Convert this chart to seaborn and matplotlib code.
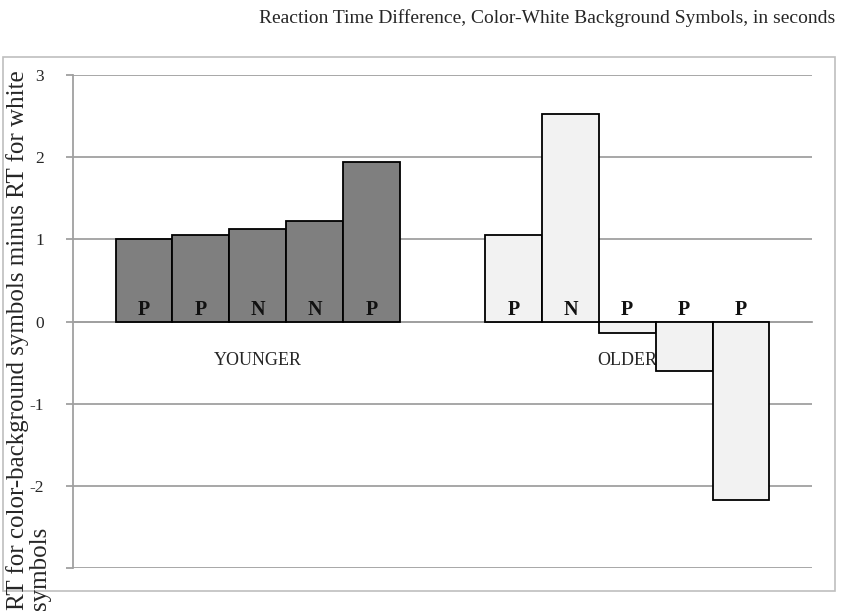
import numpy as np
import pandas as pd
import seaborn as sns
import matplotlib.pyplot as plt
from matplotlib.patches import Rectangle

groups = ['YOUNGER'] * 5 + ['OLDER'] * 5
slots = [1, 2, 3, 4, 5] * 2
values = [1.00, 1.05, 1.13, 1.22, 1.94, 1.05, 2.53, -0.14, -0.60, -2.17]
marks = ['P', 'P', 'N', 'N', 'P', 'P', 'N', 'P', 'P', 'P']
group_colors = {'YOUNGER': '#7f7f7f', 'OLDER': '#f2f2f2'}
y_ticks = [-3, -2, -1, 0, 1, 2, 3]
y_ticklabels = ['', '-2', '-1', '0', '1', '2', '3']

df = pd.DataFrame({'group': groups, 'slot': slots, 'value': values, 'mark': marks})

sns.set_style('white')
plt.rcParams['font.family'] = ['Liberation Serif', 'DejaVu Serif']

fig = plt.figure(figsize=(8.41, 6.16), dpi=100)
ax = fig.add_axes([73 / 841, 1 - 568 / 616, (812 - 73) / 841, (568 - 75) / 616])

grid_c = '#a0a0a0'
sns.barplot(data=df, x='group', y='value', hue='slot', order=['YOUNGER', 'OLDER'],
            width=5 / 6.5, gap=0, errorbar=None, legend=False, saturation=1,
            palette=['#7f7f7f'] * 5, edgecolor='black', linewidth=1.3,
            ax=ax, zorder=3)

# recolor by group and write P/N letters
order = ['YOUNGER', 'OLDER']
for s, cont in zip([1, 2, 3, 4, 5], ax.containers):
    for gi, bar in enumerate(cont):
        g = order[gi]
        bar.set_facecolor(group_colors[g])
        m = df[(df.group == g) & (df.slot == s)]['mark'].iloc[0]
        ax.text(bar.get_x() + bar.get_width() / 2, 0.02, m, ha='center', va='bottom',
                fontsize=14.5, fontweight='bold', color='#111111', zorder=5)

ax.set_ylim(-3, 3)
ax.set_xlim(-0.5, 1.5)
ax.set_yticks(y_ticks)
ax.set_yticklabels(y_ticklabels)
ax.yaxis.grid(True, color=grid_c, linewidth=1.3, zorder=0)
ax.set_axisbelow(True)
ax.tick_params(axis='y', length=5, width=1.3, color=grid_c, labelsize=12.5, pad=16, left=True)
ax.tick_params(axis='x', length=0, labelsize=13, pad=22)
for side in ['top', 'right']:
    ax.spines[side].set_visible(False)
ax.spines['left'].set_color(grid_c)
ax.spines['left'].set_linewidth(1.3)
ax.spines['bottom'].set_position(('data', 0))
ax.spines['bottom'].set_color(grid_c)
ax.spines['bottom'].set_linewidth(1.3)
ax.set_xlabel('')
ax.set_ylabel('')

fig.text(835 / 841, 1 - 18 / 616, 'Reaction Time Difference, Color-White Background Symbols, in seconds',
         ha='right', va='center', fontsize=14)
fig.text(6 / 841, 6 / 616, 'RT for color-background symbols minus RT for white\nsymbols',
         rotation=90, ha='left', va='bottom', multialignment='left', fontsize=18,
         linespacing=1.0)

fig.patches.append(Rectangle((3 / 841, 1 - 591 / 616), (835 - 3) / 841, (591 - 57) / 616,
                             transform=fig.transFigure, fill=False, edgecolor='#bfbfbf',
                             linewidth=1.2, zorder=0))

fig.savefig('out.png', dpi=100)
